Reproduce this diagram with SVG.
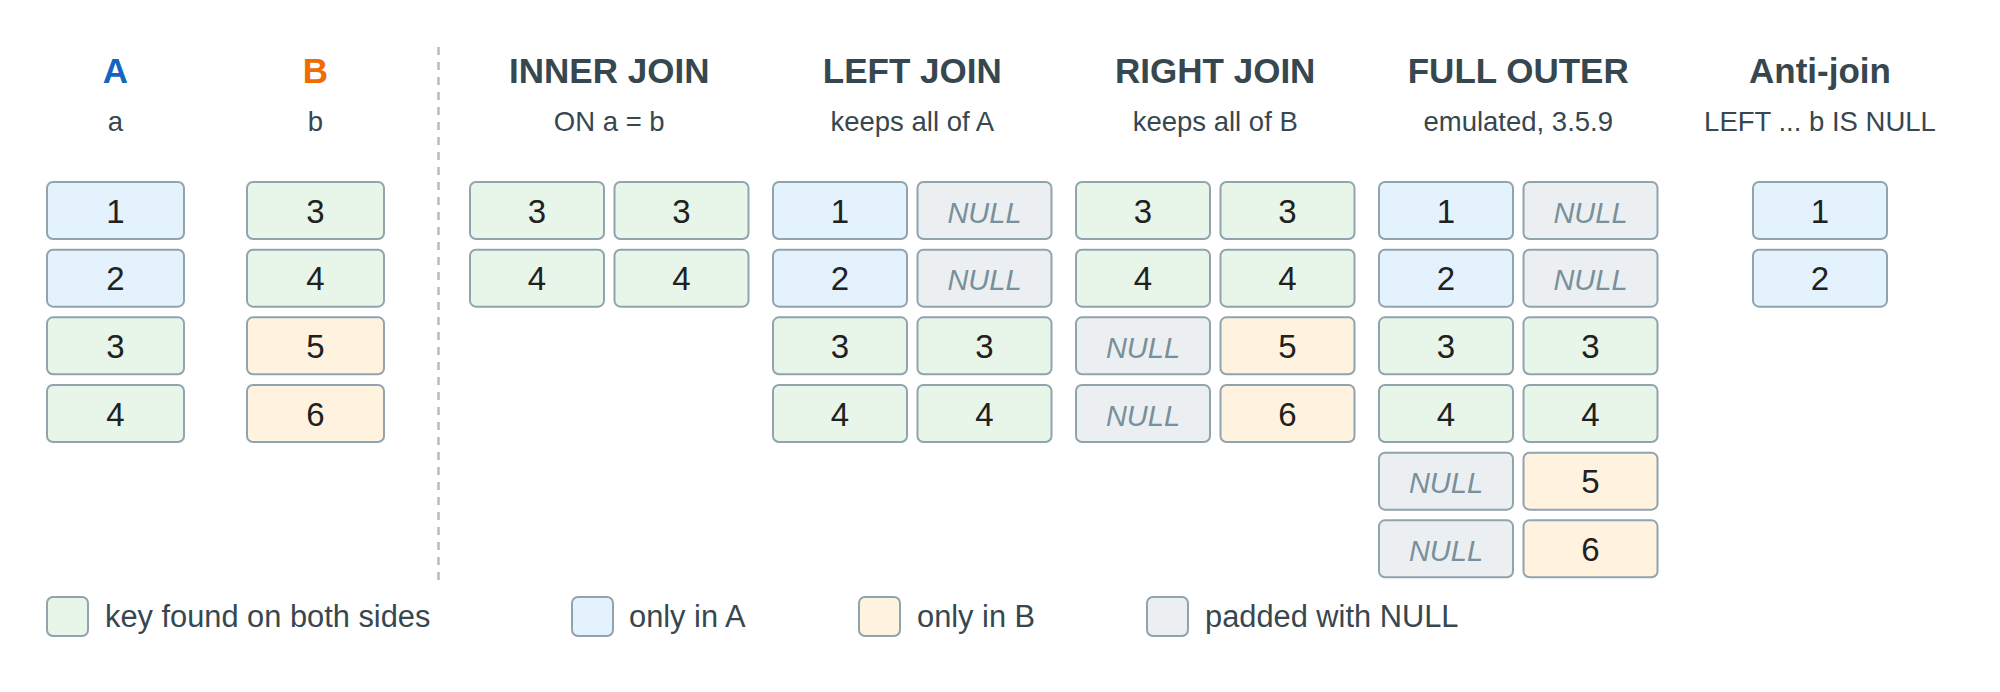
<svg xmlns="http://www.w3.org/2000/svg" width="2000" height="692" viewBox="0 0 2000 692">
<style>
text{font-family:"Liberation Sans",Arial,sans-serif;text-anchor:middle}
.t{font-size:35px;font-weight:bold;fill:#37474f}
.s{font-size:27.5px;fill:#37474f}
.v{font-size:33px;fill:#212121}
.n{font-size:29px;font-style:italic;fill:#78909c}
.lg{font-size:30.8px;fill:#37474f;text-anchor:start}
rect{stroke:#90a4ae;stroke-width:2}
.g{fill:#e8f5e9}.b{fill:#e3f2fd}.o{fill:#fff3e0}.x{fill:#eceff1}
</style>
<rect width="2000" height="692" fill="#ffffff" style="stroke:none"/>
<g id="connectors">
<line x1="438.5" y1="47" x2="438.5" y2="583" stroke="#b0bec5" stroke-width="2.5" stroke-dasharray="8 7"/>
</g>
<g id="tableA">
<text x="115.5" y="83" class="t" style="fill:#1565c0">A</text>
<text x="115.5" y="131" class="s">a</text>
<rect x="47" y="182" width="137" height="57" rx="6" class="b"/><text x="115.5" y="222.5" class="v">1</text>
<rect x="47" y="249.67" width="137" height="57" rx="6" class="b"/><text x="115.5" y="290.2" class="v">2</text>
<rect x="47" y="317.33" width="137" height="57" rx="6" class="g"/><text x="115.5" y="357.8" class="v">3</text>
<rect x="47" y="385" width="137" height="57" rx="6" class="g"/><text x="115.5" y="425.5" class="v">4</text>
</g>
<g id="tableB">
<text x="315.5" y="83" class="t" style="fill:#ef6c00">B</text>
<text x="315.5" y="131" class="s">b</text>
<rect x="247" y="182" width="137" height="57" rx="6" class="g"/><text x="315.5" y="222.5" class="v">3</text>
<rect x="247" y="249.67" width="137" height="57" rx="6" class="g"/><text x="315.5" y="290.2" class="v">4</text>
<rect x="247" y="317.33" width="137" height="57" rx="6" class="o"/><text x="315.5" y="357.8" class="v">5</text>
<rect x="247" y="385" width="137" height="57" rx="6" class="o"/><text x="315.5" y="425.5" class="v">6</text>
</g>
<g id="inner">
<text x="609.25" y="83" class="t">INNER JOIN</text>
<text x="609.25" y="131" class="s">ON a = b</text>
<rect x="470" y="182" width="134" height="57" rx="6" class="g"/><text x="537" y="222.5" class="v">3</text>
<rect x="614.5" y="182" width="134" height="57" rx="6" class="g"/><text x="681.5" y="222.5" class="v">3</text>
<rect x="470" y="249.67" width="134" height="57" rx="6" class="g"/><text x="537" y="290.2" class="v">4</text>
<rect x="614.5" y="249.67" width="134" height="57" rx="6" class="g"/><text x="681.5" y="290.2" class="v">4</text>
</g>
<g id="left">
<text x="912.25" y="83" class="t">LEFT JOIN</text>
<text x="912.25" y="131" class="s">keeps all of A</text>
<rect x="773" y="182" width="134" height="57" rx="6" class="b"/><text x="840" y="222.5" class="v">1</text>
<rect x="917.5" y="182" width="134" height="57" rx="6" class="x"/><text x="984.5" y="222.5" class="n">NULL</text>
<rect x="773" y="249.67" width="134" height="57" rx="6" class="b"/><text x="840" y="290.2" class="v">2</text>
<rect x="917.5" y="249.67" width="134" height="57" rx="6" class="x"/><text x="984.5" y="290.2" class="n">NULL</text>
<rect x="773" y="317.33" width="134" height="57" rx="6" class="g"/><text x="840" y="357.8" class="v">3</text>
<rect x="917.5" y="317.33" width="134" height="57" rx="6" class="g"/><text x="984.5" y="357.8" class="v">3</text>
<rect x="773" y="385" width="134" height="57" rx="6" class="g"/><text x="840" y="425.5" class="v">4</text>
<rect x="917.5" y="385" width="134" height="57" rx="6" class="g"/><text x="984.5" y="425.5" class="v">4</text>
</g>
<g id="right">
<text x="1215.25" y="83" class="t">RIGHT JOIN</text>
<text x="1215.25" y="131" class="s">keeps all of B</text>
<rect x="1076" y="182" width="134" height="57" rx="6" class="g"/><text x="1143" y="222.5" class="v">3</text>
<rect x="1220.5" y="182" width="134" height="57" rx="6" class="g"/><text x="1287.5" y="222.5" class="v">3</text>
<rect x="1076" y="249.67" width="134" height="57" rx="6" class="g"/><text x="1143" y="290.2" class="v">4</text>
<rect x="1220.5" y="249.67" width="134" height="57" rx="6" class="g"/><text x="1287.5" y="290.2" class="v">4</text>
<rect x="1076" y="317.33" width="134" height="57" rx="6" class="x"/><text x="1143" y="357.8" class="n">NULL</text>
<rect x="1220.5" y="317.33" width="134" height="57" rx="6" class="o"/><text x="1287.5" y="357.8" class="v">5</text>
<rect x="1076" y="385" width="134" height="57" rx="6" class="x"/><text x="1143" y="425.5" class="n">NULL</text>
<rect x="1220.5" y="385" width="134" height="57" rx="6" class="o"/><text x="1287.5" y="425.5" class="v">6</text>
</g>
<g id="full">
<text x="1518.25" y="83" class="t">FULL OUTER</text>
<text x="1518.25" y="131" class="s">emulated, 3.5.9</text>
<rect x="1379" y="182" width="134" height="57" rx="6" class="b"/><text x="1446" y="222.5" class="v">1</text>
<rect x="1523.5" y="182" width="134" height="57" rx="6" class="x"/><text x="1590.5" y="222.5" class="n">NULL</text>
<rect x="1379" y="249.67" width="134" height="57" rx="6" class="b"/><text x="1446" y="290.2" class="v">2</text>
<rect x="1523.5" y="249.67" width="134" height="57" rx="6" class="x"/><text x="1590.5" y="290.2" class="n">NULL</text>
<rect x="1379" y="317.33" width="134" height="57" rx="6" class="g"/><text x="1446" y="357.8" class="v">3</text>
<rect x="1523.5" y="317.33" width="134" height="57" rx="6" class="g"/><text x="1590.5" y="357.8" class="v">3</text>
<rect x="1379" y="385" width="134" height="57" rx="6" class="g"/><text x="1446" y="425.5" class="v">4</text>
<rect x="1523.5" y="385" width="134" height="57" rx="6" class="g"/><text x="1590.5" y="425.5" class="v">4</text>
<rect x="1379" y="452.67" width="134" height="57" rx="6" class="x"/><text x="1446" y="493.2" class="n">NULL</text>
<rect x="1523.5" y="452.67" width="134" height="57" rx="6" class="o"/><text x="1590.5" y="493.2" class="v">5</text>
<rect x="1379" y="520.33" width="134" height="57" rx="6" class="x"/><text x="1446" y="560.8" class="n">NULL</text>
<rect x="1523.5" y="520.33" width="134" height="57" rx="6" class="o"/><text x="1590.5" y="560.8" class="v">6</text>
</g>
<g id="anti">
<text x="1820" y="83" class="t">Anti-join</text>
<text x="1820" y="131" class="s">LEFT ... b IS NULL</text>
<rect x="1753" y="182" width="134" height="57" rx="6" class="b"/><text x="1820" y="222.5" class="v">1</text>
<rect x="1753" y="249.67" width="134" height="57" rx="6" class="b"/><text x="1820" y="290.2" class="v">2</text>
</g>
<g id="legend">
<rect x="47" y="597" width="41" height="39" rx="6" class="g"/><text x="105" y="627" class="lg">key found on both sides</text>
<rect x="572" y="597" width="41" height="39" rx="6" class="b"/><text x="629" y="627" class="lg">only in A</text>
<rect x="859" y="597" width="41" height="39" rx="6" class="o"/><text x="917" y="627" class="lg">only in B</text>
<rect x="1147" y="597" width="41" height="39" rx="6" class="x"/><text x="1205" y="627" class="lg">padded with NULL</text>
</g>
</svg>
